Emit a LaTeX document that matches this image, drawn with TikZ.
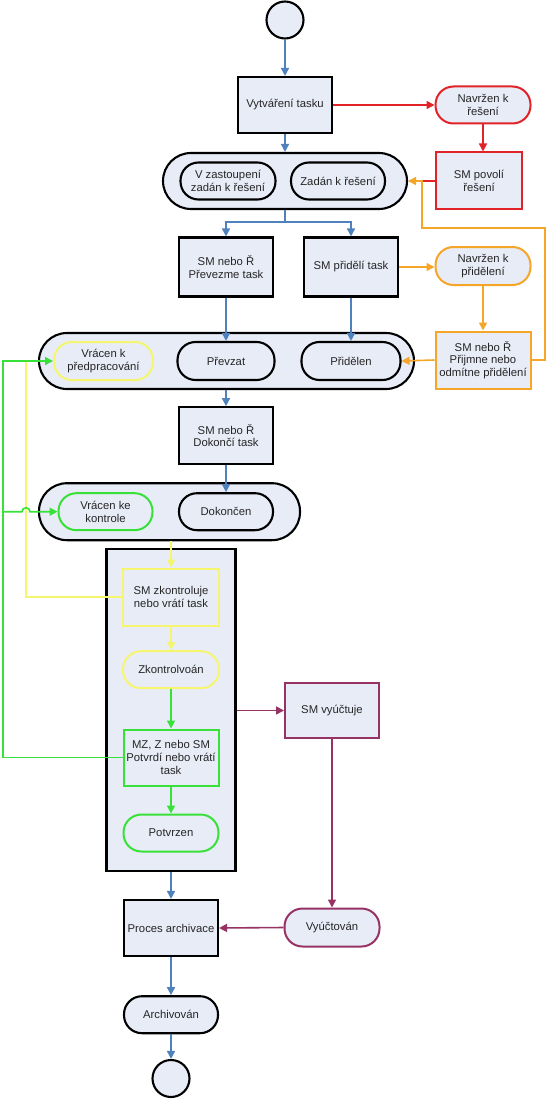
\documentclass[tikz,border=0pt]{standalone}
\usepackage{fontspec}
\setmainfont{Liberation Sans}
\usetikzlibrary{arrows.meta}
\definecolor{fillc}{RGB}{232,236,247}
\definecolor{bluec}{RGB}{79,129,189}
\definecolor{redc}{RGB}{225,35,40}
\definecolor{orangec}{RGB}{245,165,40}
\definecolor{yellowc}{RGB}{245,245,110}
\definecolor{greenc}{RGB}{55,225,55}
\definecolor{purplec}{RGB}{150,50,100}
\tikzset{
  base/.style={draw, fill=fillc, align=center, inner sep=0pt, font=\fontsize{11.3}{12.7}\selectfont, text=black!85},
  boxn/.style={base, rectangle, line width=2.1pt},
  staten/.style={base, rectangle, line width=2.1pt, rounded corners=18pt},
  groupn/.style={base, rectangle, line width=2.1pt, rounded corners=28pt},
  colb/.style={line width=2pt},
  sz/.style 2 args={minimum width=#1pt, minimum height=#2pt},
  conn/.style={line width=1.6pt, -{Triangle[length=8pt,width=8pt]}},
  plain/.style={line width=1.6pt}
}
\begin{document}
\begin{tikzpicture}[x=1pt,y=-1pt]
\useasboundingbox (0,0) rectangle (546,1099);
% groups first
\node[groupn, sz={244}{56}] (g1) at (285,181) {};
\node[groupn, sz={375}{56}] (g2) at (226.5,361) {};
\node[groupn, sz={261}{57}] (g3) at (169.5,511.7) {};
\node[boxn, sz={129}{322}] (big) at (171,710) {};
% nodes
\node[base, circle, line width=2.1pt, minimum size=37pt] (start) at (285,20) {};
\node[boxn, sz={94}{56}] (vyt) at (285,105) {Vytváření tasku};
\node[staten, sz={95}{37}, draw=redc, colb] (navrz) at (483,105) {Navržen k\\řešení};
\node[boxn, sz={86}{57}, draw=redc, colb] (smpov) at (479,181) {SM povolí\\řešení};
\node[staten, sz={95}{37}] (vz) at (228,181) {V zastoupení\\zadán k řešení};
\node[staten, sz={94}{37}] (zad) at (338,181) {Zadán k řešení};
\node[boxn, sz={94}{59}] (prev) at (226,267) {SM nebo Ř\\Převezme task};
\node[boxn, sz={94}{59}] (prid) at (351,267) {SM přidělí task};
\node[staten, sz={95}{38}, draw=orangec, colb] (navrp) at (483,266) {Navržen k\\přidělení};
\node[boxn, sz={95}{57}, draw=orangec, colb] (prij) at (483,360) {SM nebo Ř\\Přijmne nebo\\odmítne přidělení};
\node[staten, sz={99}{38}, draw=yellowc, colb] (vrp) at (103.5,361) {Vrácen k\\předpracování};
\node[staten, sz={97}{38}] (prevz) at (226,361) {Převzat};
\node[staten, sz={99}{38}] (pridn) at (351,361) {Přidělen};
\node[boxn, sz={94}{57}] (dok) at (226,435.7) {SM nebo Ř\\Dokončí task};
\node[staten, sz={94}{37}, draw=greenc, colb] (vrk) at (105.5,511.7) {Vrácen ke\\kontrole};
\node[staten, sz={94}{37}] (dokon) at (226,511.7) {Dokončen};
\node[boxn, sz={96}{57}, draw=yellowc, colb] (zk) at (171,597) {SM zkontroluje\\nebo vrátí task};
\node[staten, sz={96}{37}, draw=yellowc, colb] (zkon) at (171,669.7) {Zkontrolvoán};
\node[boxn, sz={95}{56}, draw=greenc, colb] (mz) at (171,757.5) {MZ, Z nebo SM\\Potvrdí nebo vrátí\\task};
\node[staten, sz={95}{37}, draw=greenc, colb] (potv) at (171,833) {Potvrzen};
\node[boxn, sz={94}{55}, draw=purplec, colb] (smv) at (332,710.5) {SM vyúčtuje};
\node[staten, sz={95}{38}, draw=purplec, colb] (vyu) at (332,927.5) {Vyúčtován};
\node[boxn, sz={94}{56}] (proc) at (171,928) {Proces archivace};
\node[staten, sz={94}{37}] (arch) at (171,1014.7) {Archivován};
\node[base, circle, line width=2.1pt, minimum size=37pt] (end) at (171,1078.5) {};
% helper coordinates
\coordinate (sp) at (285,222);
\coordinate (oc1) at (545,228);
\coordinate (oc2) at (421.7,181);
\coordinate (yc) at (26,361);
\coordinate (gc) at (2.7,361);
\coordinate (gk) at (2.7,511.7);
\coordinate (hop) at (22,511.7);
% blue connectors
\draw[conn, bluec] (start) -- (vyt);
\draw[conn, bluec] (vyt) -- (g1);
\draw[plain, bluec] (g1.south) -- (sp);
\draw[conn, bluec] (sp) -| (prev.north);
\draw[conn, bluec] (sp) -| (prid.north);
\draw[conn, bluec] (prev.south) -- (prevz.north);
\draw[conn, bluec] (prid.south) -- (pridn.north);
\draw[conn, bluec] (dok.north |- g2.south) -- (dok.north);
\draw[conn, bluec] (dok.south) -- (dokon.north);
\draw[conn, bluec] (big.south) -- (proc.north);
\draw[conn, bluec] (proc.south) -- (arch.north);
\draw[conn, bluec] (arch.south) -- (end.north);
% red
\draw[conn, redc] (vyt.east) -- (navrz.west);
\draw[conn, redc] (navrz.south) -- (navrz.south |- smpov.north);
\draw[plain, redc] (smpov.west) -- (oc2);
% orange
\draw[conn, orangec] (prid.east) -- (prid.east -| navrp.west);
\draw[conn, orangec] (navrp.south) -- (navrp.south |- prij.north);
\draw[conn, orangec] (prij.west) -- (pridn.east);
\draw[conn, orangec] (prij.east) -| (oc1) -| (oc2) -- (g1.east);
% yellow
\draw[plain, yellowc] (zk.west) -| (yc);
\draw[conn, yellowc] (zk.north |- g3.south) -- (zk.north);
\draw[conn, yellowc] (zk.south) -- (zkon.north);
% green
\draw[conn, greenc] (mz.west) -| (gc) -- (vrp.west);
\draw[conn, greenc] (gk) -- (hop) arc[start angle=180, end angle=0, radius=4pt] -- (vrk.west);
\draw[conn, greenc] (zkon.south) -- (mz.north);
\draw[conn, greenc] (mz.south) -- (potv.north);
% purple
\draw[conn, purplec] (big.east |- smv.west) -- (smv.west);
\draw[conn, purplec] (smv.south) -- (vyu.north);
\draw[conn, purplec] (vyu.west) -- (proc.east);
\end{tikzpicture}
\end{document}
